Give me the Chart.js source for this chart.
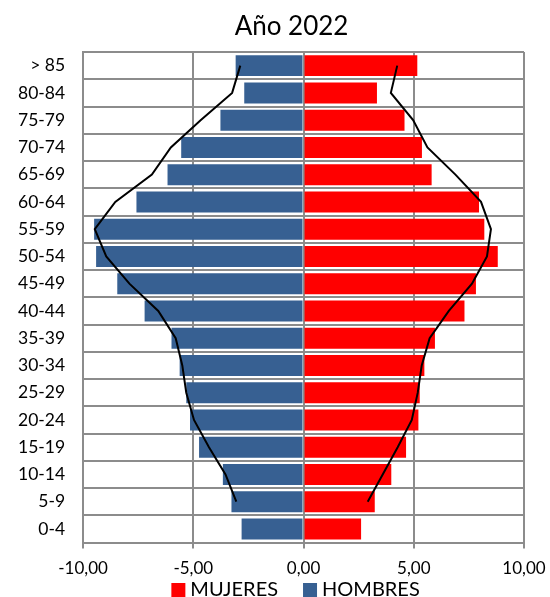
<!DOCTYPE html>
<html>
<head>
<meta charset="utf-8">
<script src="https://cdn.jsdelivr.net/npm/chart.js@4/dist/chart.umd.min.js"></script>
<style>
  body { margin: 0; background: #fff; }
</style>
</head>
<body>
<canvas id="myChart" width="550" height="597"></canvas>
<script>
const groups = ["> 85", "80-84", "75-79", "70-74", "65-69", "60-64", "55-59", "50-54", "45-49",
  "40-44", "35-39", "30-34", "25-29", "20-24", "15-19", "10-14", "5-9", "0-4"];
const mujeres = [5.16, 3.33, 4.58, 5.37, 5.81, 7.96, 8.2, 8.81, 7.82,
  7.3, 5.96, 5.48, 5.27, 5.21, 4.65, 3.98, 3.23, 2.61];
const hombres = [-3.08, -2.69, -3.77, -5.55, -6.17, -7.58, -9.5, -9.41, -8.45,
  -7.21, -5.99, -5.62, -5.32, -5.15, -4.74, -3.66, -3.27, -2.81];
// outline of the other year (no value for 0-4)
const lineaMujeres = [4.25, 3.96, 4.97, 5.62, 6.89, 8.05, 8.5, 8.32, 7.64,
  6.59, 5.72, 5.36, 5.18, 4.91, 4.27, 3.59, 2.91, null];
const lineaHombres = [-2.87, -3.24, -4.67, -6.02, -6.88, -8.54, -9.47, -8.95, -7.9,
  -6.59, -5.8, -5.5, -5.32, -4.97, -4.29, -3.54, -3.05, null];

const font = "Lato, 'Open Sans', sans-serif";

// title and legend drawn by hand so they sit where Excel put them
const titleLegend = {
  id: "titleLegend",
  afterDraw(chart) {
    const { ctx, chartArea } = chart;
    ctx.save();
    ctx.fillStyle = "#000";
    ctx.textAlign = "center";
    ctx.textBaseline = "alphabetic";
    ctx.font = "26px " + font;
    ctx.fillText("Año 2022", chartArea.left + chartArea.width / 2 - 12, 35);

    const items = chart.data.datasets.filter((d) => d.type !== "line");
    ctx.font = "20px " + font;
    ctx.textAlign = "left";
    const box = 14, gap = 5, between = 25;
    const widths = items.map((d) => ctx.measureText(d.label).width);
    let total = widths.reduce((a, w) => a + box + gap + w, 0) + between * (items.length - 1);
    let x = chartArea.left + chartArea.width / 2 - 8 - total / 2;
    items.forEach((d, i) => {
      ctx.fillStyle = d.backgroundColor;
      ctx.fillRect(x, 583, box, box);
      ctx.fillStyle = "#000";
      ctx.fillText(d.label, x + box + gap, 596);
      x += box + gap + widths[i] + between;
    });
    ctx.restore();
  },
};

const ctx = document.getElementById("myChart");
new Chart(ctx, {
  type: "bar",
  data: {
    labels: groups,
    datasets: [
      {
        label: "MUJERES",
        data: mujeres,
        backgroundColor: "#ff0000",
        grouped: false,
        barPercentage: 0.77,
        categoryPercentage: 1,
        order: 2,
      },
      {
        label: "HOMBRES",
        data: hombres,
        backgroundColor: "#376092",
        grouped: false,
        barPercentage: 0.77,
        categoryPercentage: 1,
        order: 2,
      },
      {
        type: "line",
        label: "linea mujeres",
        data: lineaMujeres,
        indexAxis: "y",
        borderColor: "#000",
        borderWidth: 2,
        pointRadius: 0,
        fill: false,
        order: 1,
      },
      {
        type: "line",
        label: "linea hombres",
        data: lineaHombres,
        indexAxis: "y",
        borderColor: "#000",
        borderWidth: 2,
        pointRadius: 0,
        fill: false,
        order: 1,
      },
    ],
  },
  options: {
    indexAxis: "y",
    responsive: false,
    animation: false,
    layout: { padding: { left: 0, right: 0, top: 52, bottom: 8 } },
    plugins: {
      title: { display: false },
      legend: { display: false },
      tooltip: { enabled: false },
    },
    scales: {
      x: {
        min: -10,
        max: 10,
        afterFit: (scale) => {
          scale.paddingRight = 26;
        },
        ticks: {
          stepSize: 5,
          color: "#000",
          font: { family: font, size: 17 },
          padding: 10,
          callback: (v) => v.toFixed(2).replace(".", ","),
        },
        grid: { color: "#8c8c8c", lineWidth: 2, tickLength: 6 },
        border: { color: "#8c8c8c", width: 2 },
      },
      y: {
        ticks: {
          color: "#000",
          font: { family: font, size: 17.5 },
          padding: 18,
        },
        grid: { color: "#8c8c8c", lineWidth: 2, offset: true, drawTicks: false },
        border: { color: "#8c8c8c", width: 2 },
      },
    },
  },
  plugins: [titleLegend],
});
</script>
</body>
</html>
